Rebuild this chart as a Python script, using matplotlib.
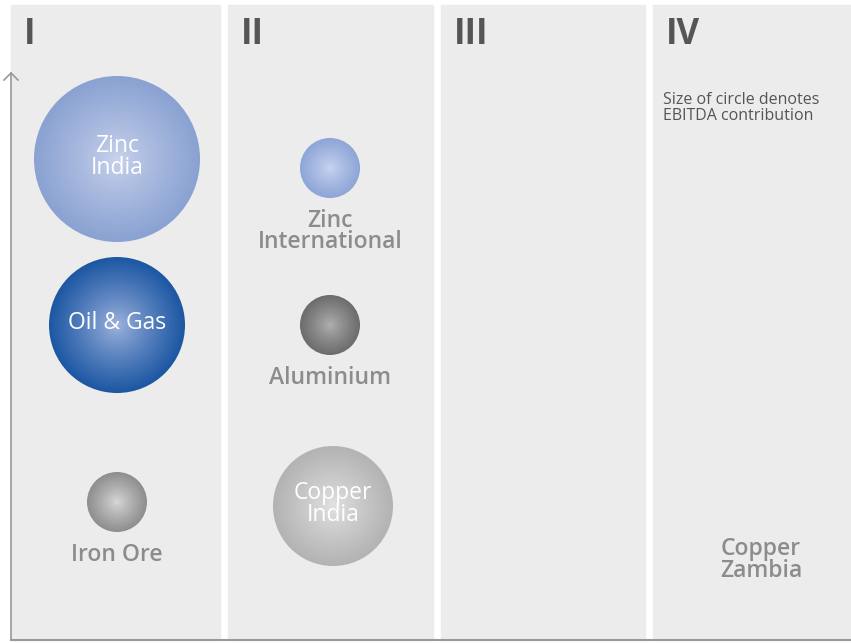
import numpy as np
import matplotlib.pyplot as plt
from matplotlib.patches import Circle, Rectangle
from matplotlib.colors import LinearSegmentedColormap

plt.rcParams['font.family'] = ['Open Sans', 'DejaVu Sans']

# quadrant panels (left, right edges in px)
panel_names = ['I', 'II', 'III', 'IV']
panel_left = [11, 228, 441, 653]
panel_right = [220, 433, 645, 851]

# bubbles: x, y (px), radius (px), centre colour, edge colour
names = ['Zinc\nIndia', 'Oil & Gas', 'Iron Ore', 'Zinc\nInternational',
         'Aluminium', 'Copper\nIndia', 'Copper\nZambia']
bx = [117, 117, 117, 330, 330, 333, 761]
by = [159, 325, 502, 168, 325, 506, 560]
br = [83, 68, 30, 30, 30, 60, 0]
inner = ['#c8d2ec', '#9fb3de', '#d8d8d8', '#c8d4f0', '#b0b0b0', '#e2e2e2', None]
outer = ['#8aa2d2', '#1c57a3', '#8e8e8e', '#8ea5d7', '#6c6c6c', '#b3b3b3', None]
label_inside = [True, True, False, False, False, True, False]


def bubble(ax, x, y, r, c0, c1):
    cmap = LinearSegmentedColormap.from_list('g', [c0, c1])
    n = 200
    g = np.linspace(-1, 1, n)
    xx, yy = np.meshgrid(g, g)
    d = np.clip(np.sqrt(xx ** 2 + yy ** 2), 0, 1) ** 0.85
    im = ax.imshow(d, cmap=cmap, extent=(x - r, x + r, y + r, y - r),
                   interpolation='bilinear', zorder=3)
    clip = Circle((x, y), r, transform=ax.transData)
    im.set_clip_path(clip)


fig = plt.figure(figsize=(8.51, 6.43), dpi=100)
ax = fig.add_axes([0, 0, 1, 1])
ax.set_xlim(0, 851)
ax.set_ylim(643, 0)
ax.axis('off')

for name, l, r in zip(panel_names, panel_left, panel_right):
    ax.add_patch(Rectangle((l, 5), r - l, 635, color='#ececec', zorder=1))
    ax.text(l + 13, 35, name, fontsize=25, fontweight='bold', color='#555555',
            ha='left', va='center', zorder=4)

# axes arrows
ax.plot([11, 11], [640, 73], color='#999999', lw=1.2, zorder=5)
ax.plot([4, 11, 18], [80, 73, 80], color='#999999', lw=1.2, zorder=5)
ax.plot([11, 851], [640, 640], color='#999999', lw=1.5, zorder=5)

fs = 16.5
for i in range(len(names)):
    if br[i] > 0:
        bubble(ax, bx[i], by[i], br[i], inner[i], outer[i])
    if label_inside[i]:
        ax.text(bx[i], by[i] - 2, names[i], color='white', fontsize=fs,
                ha='center', va='center', linespacing=0.85, zorder=6)
    elif br[i] > 0:
        ax.text(bx[i], by[i] + br[i] + 11, names[i], color='#8c8c8c',
                fontsize=fs, fontweight='semibold', ha='center', va='top',
                linespacing=0.85, zorder=6)
    else:
        ax.text(bx[i], by[i], names[i], color='#8c8c8c', fontsize=fs,
                fontweight='semibold', ha='center', va='center',
                linespacing=0.85, zorder=6)

ax.text(663, 108, 'Size of circle denotes\nEBITDA contribution', color='#555555',
        fontsize=11.5, ha='left', va='center', linespacing=1.05, zorder=6)

fig.savefig('out.png', dpi=100)
